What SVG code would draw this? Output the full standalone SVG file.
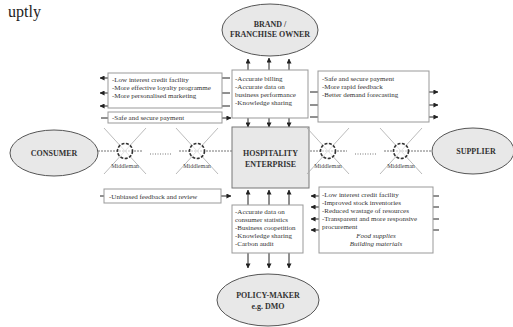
<svg xmlns="http://www.w3.org/2000/svg" width="513" height="327" viewBox="0 0 513 327">
<defs>
<marker id="ah" viewBox="0 0 6 6" refX="5.5" refY="3" markerWidth="5" markerHeight="5" orient="auto-start-reverse" markerUnits="userSpaceOnUse">
<path d="M0,0 L6,3 L0,6 z" fill="#222"/>
</marker>
<style>
.t{font-family:"Liberation Serif","Times New Roman",serif;font-size:7px;fill:#333}
.b{font-family:"Liberation Serif","Times New Roman",serif;font-size:8px;font-weight:bold;fill:#333;text-anchor:middle}
.m{font-family:"Liberation Serif","Times New Roman",serif;font-size:6px;fill:#444;text-anchor:middle}
.ell{fill:#e8e8e8;stroke:#555;stroke-width:1}
.box{fill:#fff;stroke:#999;stroke-width:1}
.ar{stroke:#222;stroke-width:1;fill:none;marker-end:url(#ah)}
.dl{stroke:#777;stroke-width:1;stroke-dasharray:2 1;fill:none}
.dots{stroke:#777;stroke-width:1;stroke-dasharray:1 1.5;fill:none}
.x{stroke:#aaa;stroke-width:0.8;fill:none}
.circ{fill:#fff;fill-opacity:0.6;stroke:#333;stroke-width:1.6;stroke-dasharray:3 1.5}
</style>
</defs>
<rect width="513" height="327" fill="#fff"/>
<text x="8" y="17" style="font-family:'Liberation Serif',serif;font-size:16px;fill:#222">uptly</text>

<g id="connectors">
<line class="ar" x1="248" y1="70" x2="248" y2="59"/>
<line class="ar" x1="269" y1="70" x2="269" y2="58"/>
<line class="ar" x1="289" y1="70" x2="289" y2="59"/>
<line class="ar" x1="248" y1="118" x2="248" y2="127"/>
<line class="ar" x1="269" y1="118" x2="269" y2="127"/>
<line class="ar" x1="289" y1="118" x2="289" y2="127"/>
<line class="ar" x1="230" y1="78" x2="100" y2="78"/>
<line class="ar" x1="230" y1="93" x2="100" y2="93"/>
<line class="ar" x1="230" y1="106" x2="100" y2="106"/>
<line class="ar" x1="101" y1="118" x2="231" y2="118"/>
<line class="ar" x1="310" y1="92" x2="438" y2="92"/>
<line class="ar" x1="310" y1="105" x2="438" y2="105"/>
<line class="ar" x1="310" y1="117" x2="438" y2="117"/>
<line class="ar" x1="100" y1="196" x2="231" y2="196"/>
<line class="ar" x1="248" y1="205" x2="248" y2="190"/>
<line class="ar" x1="269" y1="205" x2="269" y2="190"/>
<line class="ar" x1="289" y1="205" x2="289" y2="190"/>
<line class="ar" x1="248" y1="253" x2="248" y2="268"/>
<line class="ar" x1="269" y1="253" x2="269" y2="268"/>
<line class="ar" x1="289" y1="253" x2="289" y2="268"/>
<line class="ar" x1="439" y1="196" x2="311" y2="196"/>
<line class="ar" x1="439" y1="207" x2="311" y2="207"/>
<line class="ar" x1="439" y1="219" x2="311" y2="219"/>
<line class="ar" x1="439" y1="230" x2="311" y2="230"/>
<line class="dl" x1="98" y1="151" x2="142" y2="151"/>
<line class="dots" x1="150" y1="154" x2="172" y2="154"/>
<line class="dl" x1="179" y1="151" x2="232" y2="151"/>
<line class="dl" x1="310" y1="151" x2="347" y2="151"/>
<line class="dots" x1="355" y1="154" x2="377" y2="154"/>
<line class="dl" x1="384" y1="151" x2="433" y2="151"/>
</g>

<g id="brand">
<ellipse class="ell" cx="270" cy="30" rx="48" ry="26"/>
<text class="b" x="270" y="27">BRAND /</text>
<text class="b" x="270" y="37">FRANCHISE OWNER</text>
</g>

<g id="consumer">
<ellipse class="ell" cx="54" cy="153" rx="44" ry="23"/>
<text class="b" x="54" y="156">CONSUMER</text>
</g>

<g id="supplier">
<ellipse class="ell" cx="473" cy="151" rx="41" ry="23"/>
<text class="b" x="476" y="154">SUPPLIER</text>
</g>

<g id="policy">
<ellipse class="ell" cx="268" cy="300" rx="51" ry="26"/>
<text class="b" x="268" y="298">POLICY-MAKER</text>
<text class="b" x="268" y="309">e.g. DMO</text>
</g>

<g id="enterprise">
<rect x="232" y="127" width="77" height="61" fill="#e8e8e8" stroke="#777" stroke-width="1"/>
<text class="b" x="270.5" y="156">HOSPITALITY</text>
<text class="b" x="270.5" y="167">ENTERPRISE</text>
</g>

<g id="box-brand">
<rect class="box" x="232" y="70" width="76" height="48"/>
<text class="t" x="235" y="81">-Accurate billing</text>
<text class="t" x="235" y="89">-Accurate data on</text>
<text class="t" x="235" y="97">business performance</text>
<text class="t" x="235" y="105">-Knowledge sharing</text>
</g>

<g id="box-consumer-1">
<rect class="box" x="108" y="73" width="114" height="35"/>
<text class="t" x="112" y="82">-Low interest credit facility</text>
<text class="t" x="112" y="90">-More effective loyalty programme</text>
<text class="t" x="112" y="98">-More personalised marketing</text>
</g>

<g id="box-consumer-2">
<rect class="box" x="108" y="112" width="114" height="11"/>
<text class="t" x="112" y="120">-Safe and secure payment</text>
</g>

<g id="box-supplier-1">
<rect class="box" x="318" y="71" width="111" height="51"/>
<text class="t" x="322" y="81">-Safe and secure payment</text>
<text class="t" x="322" y="89">-More rapid feedback</text>
<text class="t" x="322" y="97">-Better demand forecasting</text>
</g>

<g id="box-consumer-3">
<rect class="box" x="104" y="189" width="117" height="14"/>
<text class="t" x="109" y="199">-Unbiased feedback and review</text>
</g>

<g id="box-policy">
<rect class="box" x="232" y="205" width="71" height="48"/>
<text class="t" x="235" y="214">-Accurate data on</text>
<text class="t" x="235" y="222">consumer statistics</text>
<text class="t" x="235" y="230">-Business coopetition</text>
<text class="t" x="235" y="238">-Knowledge sharing</text>
<text class="t" x="235" y="246">-Carbon audit</text>
</g>

<g id="box-supplier-2">
<rect class="box" x="319" y="187" width="114" height="66"/>
<text class="t" x="322" y="197">-Low interest credit facility</text>
<text class="t" x="322" y="205">-Improved stock inventories</text>
<text class="t" x="322" y="213">-Reduced wastage of resources</text>
<text class="t" x="322" y="221">-Transparent and more responsive</text>
<text class="t" x="322" y="229">procurement</text>
<text class="t" x="376" y="238" text-anchor="middle" font-style="italic">Food supplies</text>
<text class="t" x="376" y="246" text-anchor="middle" font-style="italic">Building materials</text>
</g>

<g id="middleman-1">
<line class="x" x1="104" y1="128" x2="146" y2="174"/>
<line class="x" x1="146" y1="128" x2="104" y2="174"/>
<circle class="circ" cx="125" cy="151" r="7.5"/>
<text class="m" x="125" y="168">Middleman</text>
</g>
<g id="middleman-2">
<line class="x" x1="176" y1="128" x2="218" y2="174"/>
<line class="x" x1="218" y1="128" x2="176" y2="174"/>
<circle class="circ" cx="197" cy="151" r="7.5"/>
<text class="m" x="197" y="168">Middleman</text>
</g>
<g id="middleman-3">
<line class="x" x1="307" y1="128" x2="349" y2="174"/>
<line class="x" x1="349" y1="128" x2="307" y2="174"/>
<circle class="circ" cx="328" cy="151" r="7.5"/>
<text class="m" x="328" y="168">Middleman</text>
</g>
<g id="middleman-4">
<line class="x" x1="380" y1="128" x2="422" y2="174"/>
<line class="x" x1="422" y1="128" x2="380" y2="174"/>
<circle class="circ" cx="401" cy="151" r="7.5"/>
<text class="m" x="401" y="168">Middleman</text>
</g>
</svg>
